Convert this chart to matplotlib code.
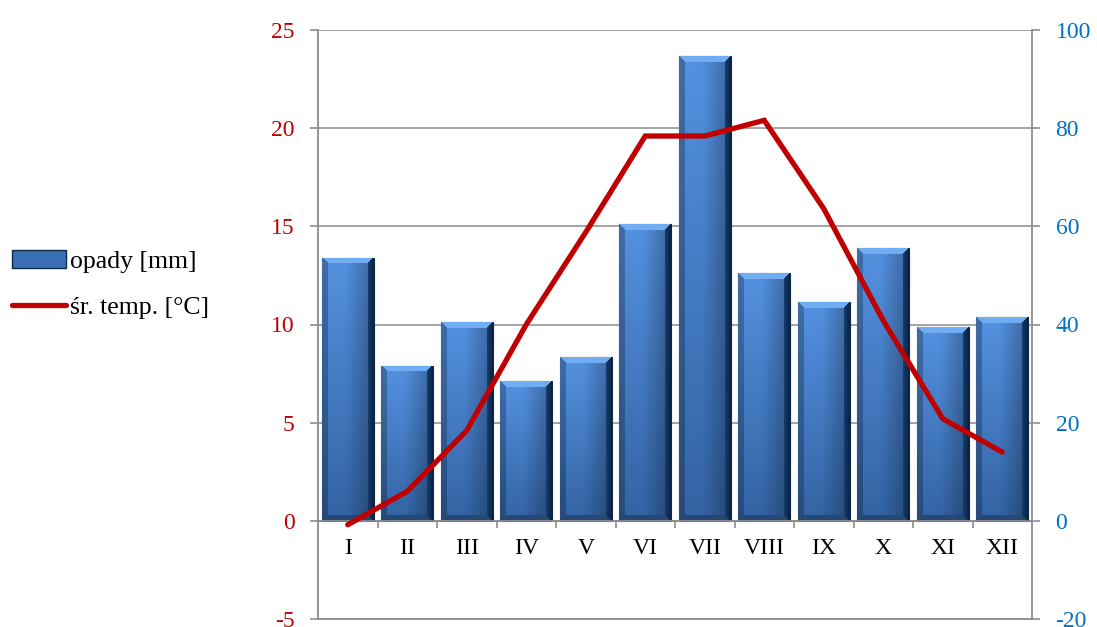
import numpy as np
import matplotlib
matplotlib.use("Agg")
import matplotlib.pyplot as plt
from matplotlib.patches import Patch
from matplotlib.lines import Line2D

months = ["I", "II", "III", "IV", "V", "VI", "VII", "VIII", "IX", "X", "XI", "XII"]
opady = [53.6, 31.6, 40.5, 28.5, 33.4, 60.5, 94.7, 50.5, 44.6, 55.6, 39.5, 41.5]
temp = [-0.2, 1.5, 4.6, 10.0, 14.7, 19.6, 19.6, 20.4, 15.9, 10.2, 5.2, 3.5]

plt.rcParams["font.family"] = ["Liberation Serif", "DejaVu Serif"]
plt.rcParams["axes.unicode_minus"] = False

RED = "#C00000"
BLUE_TXT = "#0070C0"
GRAY = "#8c8c8c"


def bevel_image(w_px, h_px, b=6):
    # beveled, shaded bar face like the Excel 3D bars
    H, W = max(h_px, 2), max(w_px, 2)
    ii, jj = np.mgrid[0:H, 0:W]
    u = jj / (W - 1)
    v = ii / (H - 1)
    top = np.array([0.33, 0.57, 0.88])
    bot = np.array([0.20, 0.39, 0.64])
    face = top[None, None, :] * (1 - v[..., None]) + bot[None, None, :] * v[..., None]
    hfac = np.where(u < 0.45, 1.0, 1.0 - 0.3 * (u - 0.45) / 0.55)
    img = face * hfac[..., None]

    dl, dr, dt, db = jj, W - 1 - jj, ii, H - 1 - ii
    dmin = np.minimum(np.minimum(dl, dr), np.minimum(dt, db))
    inb = dmin < b
    left = inb & (dl == dmin)
    right = inb & (dr == dmin)
    topb = inb & (dt == dmin) & ~left & ~right
    botb = inb & (db == dmin) & ~left & ~right & ~topb
    img[left] = face[left] * 0.75
    rshade = (dr[right] / b)[:, None]
    img[right] = np.array([0.04, 0.14, 0.27]) * (1 - rshade) + np.array([0.10, 0.25, 0.45]) * rshade
    img[topb] = np.array([0.44, 0.68, 0.95])
    img[botb] = face[botb] * 0.72
    return np.clip(img, 0, 1)


fig = plt.figure(figsize=(10.97, 6.27), dpi=100)
ax = fig.add_axes([318 / 1097, 8 / 627, (1032 - 318) / 1097, (619 - 30) / 627])
ax2 = ax.twinx()

x = np.arange(len(months))
ax.set_xlim(-0.5, len(months) - 0.5)
ax.set_ylim(-5, 25)
ax2.set_ylim(-20, 100)
ax.set_yticks(np.arange(-5, 26, 5))
ax2.set_yticks(np.arange(-20, 101, 20))

# precipitation bars on the right axis
ax2.grid(axis="y", color=GRAY, lw=1.1, zorder=0)
ax2.set_axisbelow(True)
bars = ax2.bar(x, opady, width=0.87, color="#3b6fb3", edgecolor="#0b2a4a",
               linewidth=0.8, zorder=2)
for rect in bars:
    x0, y0 = rect.get_x(), rect.get_y()
    w, h = rect.get_width(), rect.get_height()
    p0 = ax2.transData.transform((x0, y0))
    p1 = ax2.transData.transform((x0 + w, y0 + h))
    img = bevel_image(int(round(p1[0] - p0[0])), int(round(p1[1] - p0[1])))
    im = ax2.imshow(img, extent=(x0, x0 + w, y0, y0 + h), aspect="auto",
                    interpolation="bilinear", zorder=2.5)
    im.set_clip_path(rect)
ax2.set_xlim(-0.5, len(months) - 0.5)

# temperature line on the left axis, drawn above the bars
ax.set_zorder(ax2.get_zorder() + 1)
ax.patch.set_visible(False)
ax.plot(x, temp, color=RED, lw=3.8, solid_capstyle="round",
        solid_joinstyle="miter", zorder=3)

# spines
for s in ["top", "right"]:
    ax.spines[s].set_visible(False)
ax.spines["left"].set_color(GRAY)
ax.spines["left"].set_linewidth(1.3)
ax.spines["bottom"].set_position(("data", 0))
ax.spines["bottom"].set_color(GRAY)
ax.spines["bottom"].set_linewidth(1.3)
for s in ["top", "left"]:
    ax2.spines[s].set_visible(False)
ax2.spines["right"].set_color(GRAY)
ax2.spines["bottom"].set_color(GRAY)
ax2.spines["right"].set_linewidth(1.3)
ax2.spines["bottom"].set_linewidth(1.3)

# ticks
ax.tick_params(axis="y", colors=GRAY, labelcolor=RED, labelsize=17,
               length=6, width=1.2, pad=11)
ax2.tick_params(axis="y", colors=GRAY, labelcolor=BLUE_TXT, labelsize=17,
                length=6, width=1.2, pad=11)
ax2.tick_params(axis="x", bottom=False, labelbottom=False)
ax.set_xticks(x)
ax.set_xticklabels(months)
ax.set_xticks(np.arange(0.5, len(months) - 1, 1.0), minor=True)
ax.tick_params(axis="x", which="major", length=0, labelsize=17, pad=12,
               labelcolor="black")
ax.tick_params(axis="x", which="minor", length=5, width=1.2, color=GRAY)

# legend
handles = [
    Patch(facecolor="#3b6fb3", edgecolor="#0b2a4a", linewidth=1.0),
    Line2D([0], [0], color=RED, lw=3.8, solid_capstyle="round"),
]
fig.legend(handles, ["opady [mm]", "śr. temp. [°C]"], loc="center left",
           bbox_to_anchor=(12 / 1097, 1 - 284.5 / 627), frameon=False,
           fontsize=18.5, handlelength=2.1, handletextpad=0.15,
           labelspacing=0.9, borderpad=0, borderaxespad=0)

fig.savefig("out.png", dpi=100)
